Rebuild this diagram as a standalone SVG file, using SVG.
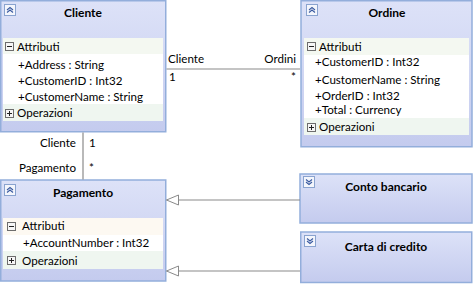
<svg xmlns="http://www.w3.org/2000/svg" width="473" height="284" viewBox="0 0 473 284">
<defs>
<linearGradient id="hdr" x1="0" y1="0" x2="0" y2="1">
<stop offset="0" stop-color="#dde2f8"/>
<stop offset="1" stop-color="#c4cbee"/>
</linearGradient>
<marker id="tri" viewBox="0 0 14 12" refX="13" refY="6" markerWidth="14" markerHeight="12" markerUnits="userSpaceOnUse" orient="auto">
<path d="M1,1 L13,6 L1,11 Z" fill="#ffffff" stroke="#8a8a8a" stroke-width="1"/>
</marker>
<g id="up">
<rect x="0.5" y="0.5" width="11" height="11" fill="#f4f6fc" stroke="#8aa3cf"/>
<path d="M3,6 L6,3.5 L9,6 M3,8.5 L6,6 L9,8.5" fill="none" stroke="#3a5aa0" stroke-width="1.1"/>
</g>
<g id="down">
<rect x="0.5" y="0.5" width="11" height="11" fill="#f4f6fc" stroke="#8aa3cf"/>
<path d="M3,3.5 L6,6 L9,3.5 M3,6 L6,8.5 L9,6" fill="none" stroke="#3a5aa0" stroke-width="1.1"/>
</g>
<g id="minus">
<rect x="0.5" y="0.5" width="8" height="8" fill="#f6f6f6" stroke="#6d6d6d"/>
<path d="M2,4.5 H7" stroke="#222" stroke-width="1"/>
</g>
<g id="plus">
<rect x="0.5" y="0.5" width="8" height="8" fill="#f6f6f6" stroke="#6d6d6d"/>
<path d="M2,4.5 H7 M4.5,2 V7" stroke="#222" stroke-width="1"/>
</g>
</defs>
<style>
.box{fill:url(#hdr);stroke:#93aedb;stroke-width:1.5}
.title{font-family:Lato,"Open Sans",sans-serif;font-size:12px;font-weight:bold;fill:#000;text-anchor:middle}
.t{font-family:Lato,"Open Sans",sans-serif;font-size:11.6px;fill:#000}
.r{text-anchor:end}
.sec{fill:#f4f8f1}
.peach{fill:#fdf9f2}
.white{fill:#ffffff}
.op{fill:#eff6f0}
.line{stroke:#8a8a8a;stroke-width:1.2;fill:none}
</style>

<g id="cliente">
<rect class="box" x="0.75" y="0.75" width="165" height="131"/>
<use href="#up" x="4" y="4"/>
<text class="title" x="83" y="17">Cliente</text>
<rect class="sec" x="3" y="38" width="160" height="16"/>
<rect class="white" x="3" y="54" width="160" height="50"/>
<rect class="op" x="3" y="104" width="160" height="17"/>
<use href="#minus" x="5" y="42"/>
<text class="t" x="17" y="51">Attributi</text>
<text class="t" x="18" y="69">+Address : String</text>
<text class="t" x="18" y="85">+CustomerID : Int32</text>
<text class="t" x="18" y="101">+CustomerName : String</text>
<use href="#plus" x="5" y="109"/>
<text class="t" x="17" y="117">Operazioni</text>
</g>

<g id="ordine">
<rect class="box" x="301" y="0.75" width="171" height="146"/>
<use href="#up" x="306" y="4"/>
<text class="title" x="387" y="17">Ordine</text>
<rect class="sec" x="304" y="38" width="165" height="17"/>
<rect class="white" x="304" y="55" width="165" height="63"/>
<rect class="op" x="304" y="118" width="165" height="17"/>
<use href="#minus" x="307" y="42"/>
<text class="t" x="319" y="51">Attributi</text>
<text class="t" x="315" y="66">+CustomerID : Int32</text>
<text class="t" x="315" y="84">+CustomerName : String</text>
<text class="t" x="315" y="100">+OrderID : Int32</text>
<text class="t" x="315" y="114">+Total : Currency</text>
<use href="#plus" x="307" y="123"/>
<text class="t" x="319" y="131">Operazioni</text>
</g>

<g id="pagamento">
<rect class="box" x="0.75" y="180" width="165" height="101"/>
<use href="#up" x="4" y="184"/>
<text class="title" x="83" y="197">Pagamento</text>
<rect class="peach" x="3" y="218" width="160" height="17"/>
<rect class="white" x="3" y="235" width="160" height="16"/>
<rect class="op" x="3" y="251" width="160" height="18"/>
<use href="#minus" x="7" y="222"/>
<text class="t" x="22" y="230">Attributi</text>
<text class="t" x="23" y="247">+AccountNumber : Int32</text>
<use href="#plus" x="7" y="256"/>
<text class="t" x="22" y="265">Operazioni</text>
</g>

<g id="conto">
<rect class="box" x="300" y="174" width="172" height="49"/>
<use href="#down" x="303" y="176"/>
<text class="title" x="386" y="191">Conto bancario</text>
</g>

<g id="carta">
<rect class="box" x="300.75" y="232" width="171" height="50.5"/>
<use href="#down" x="304" y="235"/>
<text class="title" x="386" y="251">Carta di credito</text>
</g>

<g id="connectors">
<path class="line" d="M166.5,69 H300"/>
<path class="line" d="M83,132.5 V179.5"/>
<path class="line" d="M300,200 H166.5" marker-end="url(#tri)"/>
<path class="line" d="M300,271 H166.5" marker-end="url(#tri)"/>
<text class="t" x="168" y="63">Cliente</text>
<text class="t r" x="296" y="63">Ordini</text>
<text class="t" x="169" y="81">1</text>
<text class="t r" x="296" y="81">*</text>
<text class="t r" x="76" y="147">Cliente</text>
<text class="t" x="89" y="147">1</text>
<text class="t r" x="76" y="172">Pagamento</text>
<text class="t" x="89" y="172">*</text>
</g>
</svg>
